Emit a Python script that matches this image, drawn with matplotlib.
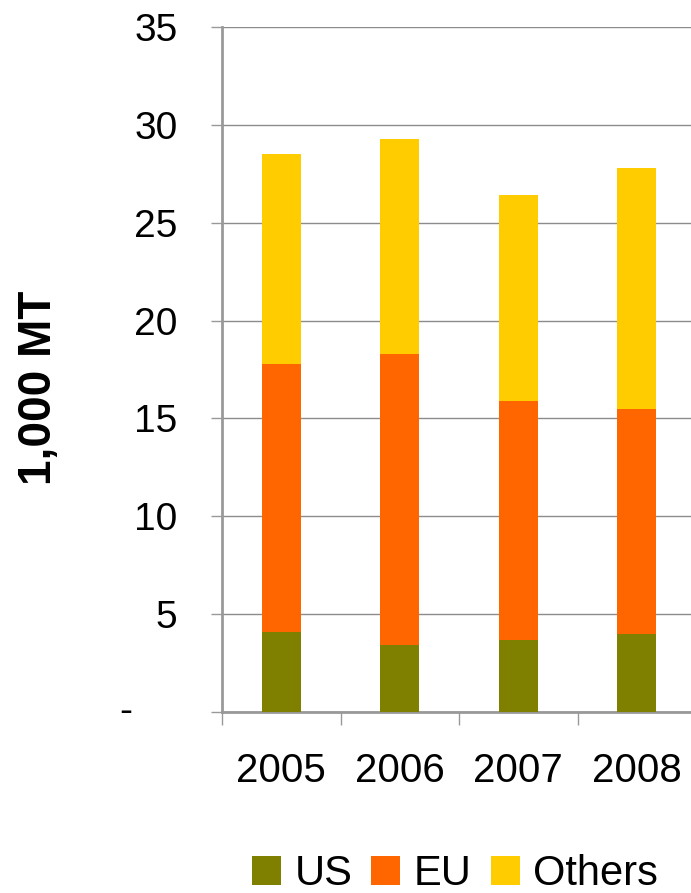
import matplotlib
matplotlib.use("Agg")
import matplotlib.pyplot as plt
import matplotlib.transforms as mtransforms
import numpy as np

plt.rcParams['font.family'] = ['Liberation Sans', 'DejaVu Sans']

# data (1,000 MT)
years = ['2005', '2006', '2007', '2008']
us = [4.1, 3.4, 3.7, 4.0]
eu = [13.7, 14.9, 12.2, 11.5]
others = [10.7, 11.0, 10.5, 12.3]
y_ticks = [0, 5, 10, 15, 20, 25, 30, 35]
y_labels = ['', '5', '10', '15', '20', '25', '30', '35']

fig = plt.figure(figsize=(6.91, 8.93), dpi=100)
ax = fig.add_axes([222/691, 1-712/893, 474/691, (712-27)/893])

x = np.arange(len(years))
w = 0.33
us_a = np.array(us)
eu_a = np.array(eu)
ax.bar(x, us, w, color='#808000', label='US', zorder=3)
ax.bar(x, eu, w, bottom=us_a, color='#FF6600', label='EU', zorder=3)
ax.bar(x, others, w, bottom=us_a + eu_a, color='#FFCC00', label='Others', zorder=3)

ax.set_xlim(-0.5, len(years) - 0.5)
ax.set_ylim(0, 35)
ax.set_yticks(y_ticks)
ax.set_yticklabels(y_labels, fontsize=28)
ax.yaxis.grid(True, color='#8c8c8c', lw=1, zorder=0)

# the "-" for zero sits further left, as in an accounting format
trans = mtransforms.blended_transform_factory(fig.transFigure, ax.transData)
ax.text(126/691, 0, '-', transform=trans, fontsize=28, ha='center', va='center')

ax.set_xticks(x)
ax.set_xticklabels(years, fontsize=29)
ax.set_xticks(np.arange(len(years) + 1) - 0.5, minor=True)
ax.tick_params(axis='x', which='major', length=0, pad=29)
ax.tick_params(axis='x', which='minor', length=9, width=1, color='#999999')
ax.tick_params(axis='y', length=8, width=1, color='#999999', pad=24)

for s in ['top', 'right']:
    ax.spines[s].set_visible(False)
for s in ['left', 'bottom']:
    ax.spines[s].set_color('#999999')
    ax.spines[s].set_linewidth(2)

fig.text(39/691, 1-388/893, '1,000 MT', rotation=90, fontsize=33, fontweight='bold',
         ha='center', va='center')

fig.legend(loc='center', bbox_to_anchor=(455/691, 1-874/893), ncol=3, frameon=False,
           fontsize=30, handlelength=0.7, handleheight=0.7, handletextpad=0.32,
           columnspacing=0.46, borderaxespad=0, borderpad=0)

fig.savefig('out.png', dpi=100)
